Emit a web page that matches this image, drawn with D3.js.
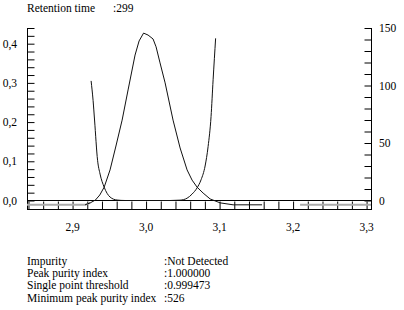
<!DOCTYPE html>
<html><head><meta charset="utf-8">
<script src="https://cdn.jsdelivr.net/npm/d3@7"></script>
<style>
html,body{margin:0;padding:0;background:#fff;}
text{font-family:"Liberation Serif","DejaVu Serif",serif;}
</style></head>
<body>
<script>
// ---- data ----
const chromTime = [2.838,2.869,2.917,2.924,2.931,2.937,2.943,2.951,2.959,2.9674,2.9755,2.985,2.9905,2.9966,3.0027,3.0095,3.0136,3.019,3.0259,3.0367,3.0463,3.0558,3.0626,3.0694,3.0776,3.0871,3.1007,3.1184,3.1578,3.2095,3.306];
const chromValue = [-0.011,-0.011,-0.011,-0.006,0.001,0.014,0.034,0.078,0.139,0.205,0.282,0.371,0.407,0.427,0.422,0.412,0.392,0.351,0.300,0.205,0.134,0.078,0.052,0.034,0.019,0.004,-0.006,-0.011,-0.011,-0.011,-0.011];
const peakStart = 2.921, peakEnd = 3.158;
const purityTime = [2.9252,2.9279,2.9299,2.934,2.9374,2.9429,2.951,2.9605,2.9714,3.0,3.0327,3.0463,3.0558,3.0626,3.0694,3.0748,3.0803,3.0844,3.0884,3.0912,3.0946];
const purityValue = [104,87,70,35,23,11.7,3,0.4,0,0,0,0.3,2,5.6,11,18,30,47,73,105,141];
const xTicksMajor = [2.9,3.0,3.1,3.2,3.3];
const leftTicksMajor = [0,0.1,0.2,0.3,0.4];
const rightTicksMajor = [0,50,100,150];
const infoLabels = ["Impurity","Peak purity index","Single point threshold","Minimum peak purity index"];
const infoValues = [":Not Detected",":1.000000",":0.999473",":526"];
const rtLabel = "Retention time", rtValue = ":299";

// ---- layout ----
const W = 404, H = 310;
const L = 27, R = 371, T = 28, B = 209, Z = 200.5;
const FONT = '"Liberation Serif","DejaVu Serif",serif';
const svg = d3.select("body").append("svg").attr("width", W).attr("height", H).style("display", "block");

const x = d3.scaleLinear().domain([2.838, 3.306]).range([L, R]);
const yL = d3.scaleLinear().domain([0, 0.44]).range([Z, T]);
const yR = d3.scaleLinear().domain([0, 150]).range([Z, T]);
const fmt = d => d3.format(".1f")(d).replace(".", ",");

// axes lines
const g = svg.append("g").attr("stroke", "#000").attr("stroke-width", 1).attr("fill", "none");
g.append("line").attr("x1", L + 0.5).attr("x2", L + 0.5).attr("y1", T).attr("y2", B + 0.5);
g.append("line").attr("x1", R + 0.5).attr("x2", R + 0.5).attr("y1", T).attr("y2", B + 0.5);
g.append("line").attr("x1", L).attr("x2", R + 1).attr("y1", B + 0.5).attr("y2", B + 0.5);
g.append("line").attr("x1", L).attr("x2", R + 1).attr("y1", Z).attr("y2", Z);

// left ticks (inward)
const axL = d3.axisRight(yL).tickValues(d3.range(0, 0.441, 0.02)).tickSize(7).tickFormat("");
svg.append("g").attr("transform", `translate(${L + 0.5},0)`).call(axL).call(s => s.select(".domain").remove());
// right ticks (inward)
const axR = d3.axisLeft(yR).tickValues(d3.range(0, 151, 10)).tickSize(7).tickFormat("");
svg.append("g").attr("transform", `translate(${R + 0.5},0)`).call(axR).call(s => s.select(".domain").remove());
// bottom ticks (upward)
const axB = d3.axisTop(x).tickValues(d3.range(2.84, 3.301, 0.02)).tickSize(8).tickFormat("");
svg.append("g").attr("transform", `translate(0,${B + 0.5})`).call(axB).call(s => s.select(".domain").remove());
svg.selectAll(".tick line").attr("stroke", "#000");

// tick labels
const txt = svg.append("g").attr("font-size", 11.5).attr("font-family", FONT).attr("fill", "#000");
txt.selectAll(".lt").data(leftTicksMajor).join("text")
  .attr("x", 17).attr("y", d => yL(d) + 4).attr("text-anchor", "end").text(fmt);
txt.selectAll(".rt").data(rightTicksMajor).join("text")
  .attr("x", 379).attr("y", d => yR(d) + 4).attr("text-anchor", "start").text(d => d);
txt.selectAll(".bt").data(xTicksMajor).join("text")
  .attr("x", d => x(d)).attr("y", 231).attr("text-anchor", "middle").text(fmt);

// curves
const chrom = chromTime.map((t, i) => ({t, v: chromValue[i]}));
const lineL = d3.line().x(d => x(d.t)).y(d => yL(d.v));
svg.append("path").datum(chrom.filter(d => d.t <= peakStart + 0.004))
  .attr("d", lineL).attr("fill", "none").attr("stroke", "#aaa").attr("stroke-width", 2);
svg.append("path").datum(chrom.filter(d => d.t >= peakEnd))
  .attr("d", lineL).attr("fill", "none").attr("stroke", "#aaa").attr("stroke-width", 2);
svg.append("path").datum(chrom.filter(d => d.t >= peakStart - 0.004 && d.t <= peakEnd))
  .attr("d", lineL).attr("fill", "none").attr("stroke", "#111").attr("stroke-width", 1);

const pur = purityTime.map((t, i) => ({t, v: purityValue[i]}));
const lineR = d3.line().x(d => x(d.t)).y(d => yR(d.v)).curve(d3.curveMonotoneX);
svg.append("path").datum(pur).attr("d", lineR).attr("fill", "none").attr("stroke", "#111").attr("stroke-width", 1);

// header + info text
txt.append("text").attr("x", 27).attr("y", 12).text(rtLabel);
txt.append("text").attr("x", 113).attr("y", 12).text(rtValue);
infoLabels.forEach((s, i) => {
  txt.append("text").attr("x", 27).attr("y", 265 + i * 12.2).text(s);
  txt.append("text").attr("x", 164).attr("y", 265 + i * 12.2).text(infoValues[i]);
});
</script>
</body></html>
